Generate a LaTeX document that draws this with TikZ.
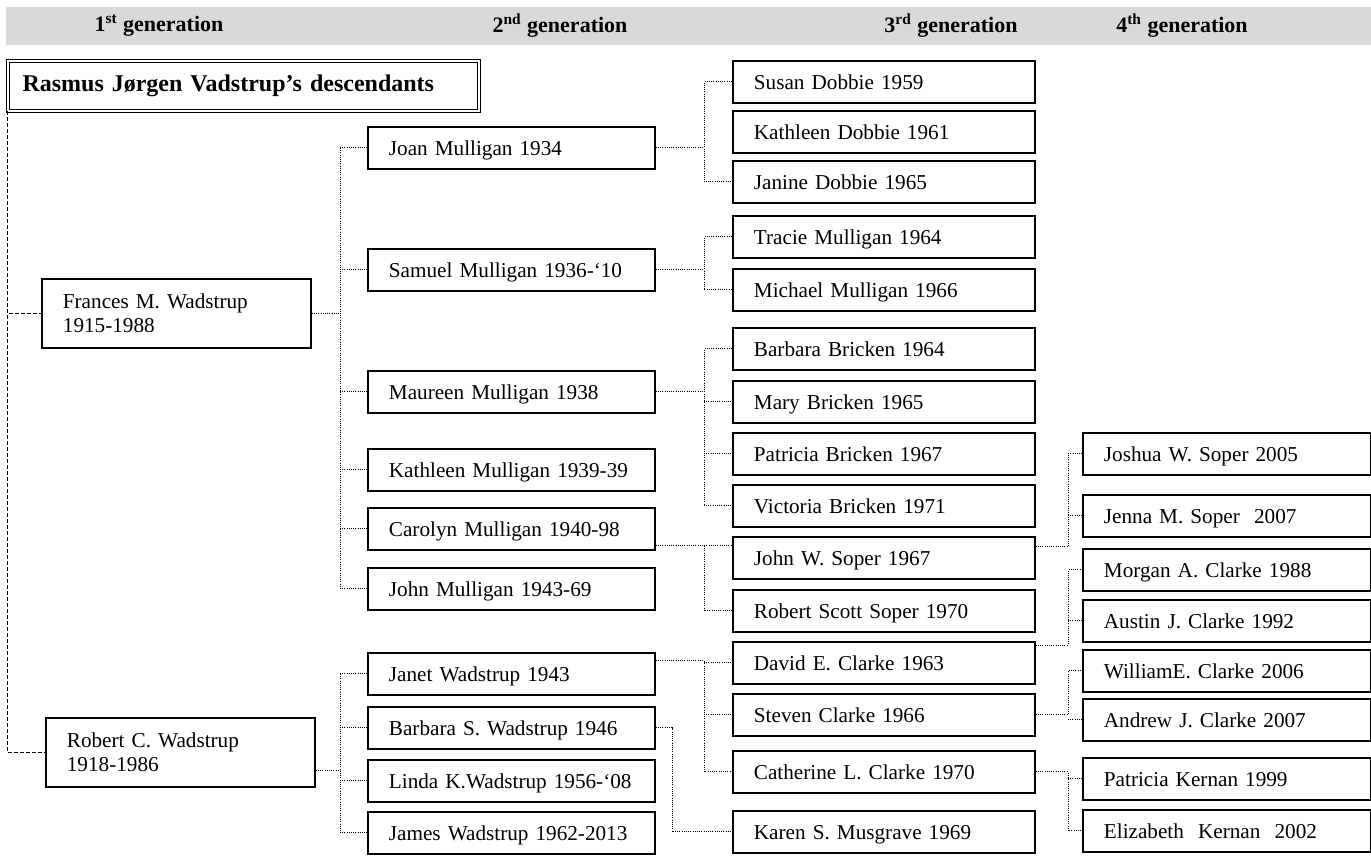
\documentclass[tikz,border=0pt]{standalone}
\usepackage{fontspec}
\setmainfont{Liberation Serif}
\usepackage{xcolor}
\definecolor{cBar}{HTML}{D9D9D9}
\usepackage{tikz}
\usetikzlibrary{calc}
\tikzset{
  box/.style={draw,line width=0.9pt,anchor=north west,align=left,
    inner xsep=10.5pt,inner ysep=0pt,minimum height=21pt,
    font=\fontsize{10.6}{12.2}\selectfont},
  person/.style={box,text height=7.6pt,text depth=0pt},
  gen-one/.style={box,text width=113.5pt,minimum height=34.5pt},
  gen-two/.style={person,text width=122.5pt},
  gen-three/.style={person,text width=130pt},
  gen-four/.style={person,text width=123pt},
  title-box/.style={draw,double,double distance=1pt,line width=0.5pt,
    anchor=north west,minimum height=25pt,inner xsep=7.5pt,
    text width=220.5pt,align=left,font=\fontsize{12}{14}\selectfont\bfseries},
  hdr-label/.style={font=\fontsize{11}{13}\selectfont\bfseries},
  link/.style={line width=0.5pt,dash pattern=on 0.5pt off 0.6pt},
  trunk/.style={line width=0.5pt,dash pattern=on 2pt off 1pt},
}
\begin{document}
\begin{tikzpicture}[x=0.5pt,y=-0.5pt]
  \useasboundingbox (0,0) rectangle (1371,859);
  % header
  \fill[cBar] (6,7) rectangle (1371,45);
  \node[hdr-label] (h-one) at (159,26) {1\textsuperscript{st} generation};
  \node[hdr-label] (h-two) at (560,26) {2\textsuperscript{nd} generation};
  \node[hdr-label] (h-three) at (951,26) {3\textsuperscript{rd} generation};
  \node[hdr-label] (h-four) at (1182,26) {4\textsuperscript{th} generation};
  \node[title-box] (title) at (7,60) {Rasmus Jørgen Vadstrup’s descendants};
  % 1st generation
  \node[gen-one] (frances) at (41,278) {Frances M. Wadstrup\\1915-1988};
  \node[gen-one] (robert) at (45,717) {Robert C. Wadstrup\\1918-1986};
  % 2nd generation
  \node[gen-two] (joan) at (367,126) {Joan Mulligan 1934};
  \node[gen-two] (samuel) at (367,248) {Samuel Mulligan 1936-‘10};
  \node[gen-two] (maureen) at (367,370) {Maureen Mulligan 1938};
  \node[gen-two] (kathM) at (367,448) {Kathleen Mulligan 1939-39};
  \node[gen-two] (carolyn) at (367,507) {Carolyn Mulligan 1940-98};
  \node[gen-two] (johnM) at (367,567) {John Mulligan 1943-69};
  \node[gen-two] (janet) at (367,652) {Janet Wadstrup 1943};
  \node[gen-two] (barbaraS) at (367,706) {Barbara S. Wadstrup 1946};
  \node[gen-two] (linda) at (367,759) {Linda K.Wadstrup 1956-‘08};
  \node[gen-two] (james) at (367,811) {James Wadstrup 1962-2013};
  % 3rd generation
  \node[gen-three] (susan) at (732,60) {Susan Dobbie 1959};
  \node[gen-three] (kathD) at (732,110) {Kathleen Dobbie 1961};
  \node[gen-three] (janine) at (732,160) {Janine Dobbie 1965};
  \node[gen-three] (tracie) at (732,215) {Tracie Mulligan 1964};
  \node[gen-three] (michael) at (732,268) {Michael Mulligan 1966};
  \node[gen-three] (barbaraB) at (732,327) {Barbara Bricken 1964};
  \node[gen-three] (mary) at (732,380) {Mary Bricken 1965};
  \node[gen-three] (patriciaB) at (732,432) {Patricia Bricken 1967};
  \node[gen-three] (victoria) at (732,484) {Victoria Bricken 1971};
  \node[gen-three] (johnS) at (732,536) {John W. Soper 1967};
  \node[gen-three] (robertS) at (732,589) {Robert Scott Soper 1970};
  \node[gen-three] (david) at (732,641) {David E. Clarke 1963};
  \node[gen-three] (steven) at (732,693) {Steven Clarke 1966};
  \node[gen-three] (catherine) at (732,750) {Catherine L. Clarke 1970};
  \node[gen-three] (karen) at (732,810) {Karen S. Musgrave 1969};
  % 4th generation
  \node[gen-four] (joshua) at (1082,432) {Joshua W. Soper 2005};
  \node[gen-four] (jenna) at (1082,494) {Jenna M. Soper~ 2007};
  \node[gen-four] (morgan) at (1082,548) {Morgan A. Clarke 1988};
  \node[gen-four] (austin) at (1082,599) {Austin J. Clarke 1992};
  \node[gen-four] (william) at (1082,649) {WilliamE. Clarke 2006};
  \node[gen-four] (andrew) at (1082,698) {Andrew J. Clarke 2007};
  \node[gen-four] (patriciaK) at (1082,757) {Patricia Kernan 1999};
  \node[gen-four] (elizabeth) at (1082,809) {Elizabeth~ Kernan~ 2002};
  % buses
  \coordinate (bus-a) at (340,0);
  \coordinate (bus-b) at (704,0);
  \coordinate (bus-c) at (672,0);
  \coordinate (bus-d) at (1068,0);
  % trunk
  \draw[trunk] (title.south west) |- (frances.west);
  \draw[trunk] (title.south west) |- (robert.west);
  % 1st -> 2nd
  \draw[link] (frances.east) -- (frances.east -| bus-a);
  \draw[link] (bus-a |- joan.west) -- (bus-a |- johnM.west);
  \foreach \k in {joan,samuel,maureen,kathM,carolyn,johnM}
    \draw[link] (bus-a |- \k.west) -- (\k.west);
  \draw[link] ([yshift=-9pt]robert.east) -- ([yshift=-9pt]robert.east -| bus-a);
  \draw[link] (bus-a |- janet.west) -- (bus-a |- james.west);
  \foreach \k in {janet,barbaraS,linda,james}
    \draw[link] (bus-a |- \k.west) -- (\k.west);
  % 2nd -> 3rd
  \draw[link] (joan.east) -- (joan.east -| bus-b);
  \draw[link] (susan.west) -| (bus-b |- janine.west) -- (janine.west);
  \draw[link] (samuel.east) -- (samuel.east -| bus-b);
  \draw[link] (tracie.west) -| (bus-b |- michael.west) -- (michael.west);
  \draw[link] (maureen.east) -- (maureen.east -| bus-b);
  \draw[link] (barbaraB.west) -| (bus-b |- victoria.west) -- (victoria.west);
  \foreach \k in {mary,patriciaB}
    \draw[link] (bus-b |- \k.west) -- (\k.west);
  \draw[link] ([yshift=-8.5pt]carolyn.east) -- ([yshift=-8.5pt]carolyn.east -| johnS.west);
  \draw[link] ([yshift=-8.5pt]carolyn.east -| bus-b) |- (robertS.west);
  \draw[link] ([yshift=6.5pt]janet.east) -| (bus-b |- catherine.west) -- (catherine.west);
  \foreach \k in {david,steven}
    \draw[link] (bus-b |- \k.west) -- (\k.west);
  \draw[link] (barbaraS.east) -| (bus-c |- karen.west) -- (karen.west);
  % 3rd -> 4th
  \draw[link] ([yshift=5.5pt]johnS.east) -| (bus-d |- joshua.west) -- (joshua.west);
  \draw[link] (bus-d |- jenna.west) -- (jenna.west);
  \draw[link] ([yshift=-2pt]david.north east) -| (bus-d |- morgan.west) -- (morgan.west);
  \draw[link] (bus-d |- austin.west) -- (austin.west);
  \draw[link] (steven.east) -| (bus-d |- william.west) -- (william.west);
  \draw[link] (bus-d |- andrew.west) -- (andrew.west);
  \draw[link] (catherine.east) -| (bus-d |- elizabeth.west) -- (elizabeth.west);
  \draw[link] (bus-d |- patriciaK.west) -- (patriciaK.west);
\end{tikzpicture}
\end{document}
